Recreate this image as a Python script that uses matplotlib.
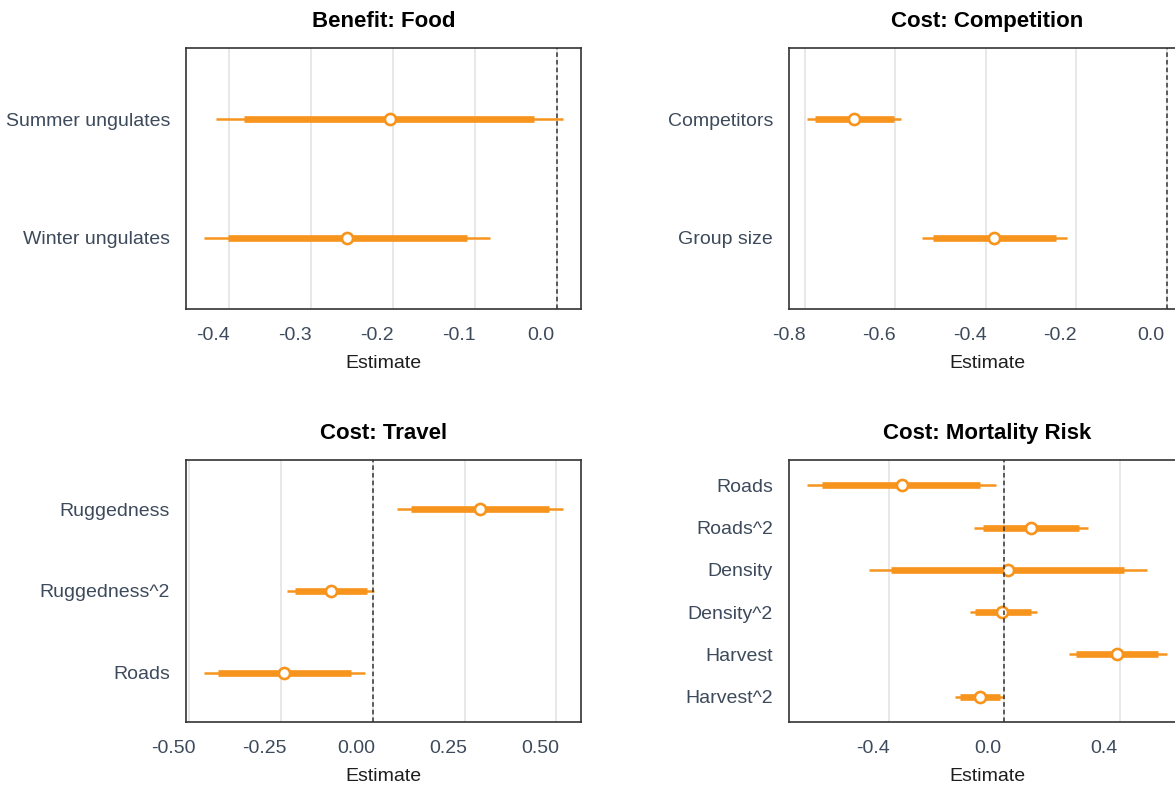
import matplotlib
matplotlib.use("Agg")
import matplotlib.pyplot as plt
from matplotlib.transforms import ScaledTranslation

plt.rcParams['font.family'] = ['Liberation Sans', 'DejaVu Sans']

ORANGE = '#f7941d'
TEXT = '#3d4a5b'

# Benefit: Food
food_terms = ["Summer ungulates", "Winter ungulates"]
food_est = [-0.204, -0.256]
food_lo50 = [-0.382, -0.402]
food_hi50 = [-0.027, -0.109]
food_lo95 = [-0.416, -0.431]
food_hi95 = [0.008, -0.081]
food_ticks = [-0.4, -0.3, -0.2, -0.1, 0.0]
food_ticklabels = ["-0.4", "-0.3", "-0.2", "-0.1", "0.0"]

# Cost: Competition
comp_terms = ["Competitors", "Group size"]
comp_est = [-0.692, -0.382]
comp_lo50 = [-0.778, -0.517]
comp_hi50 = [-0.602, -0.245]
comp_lo95 = [-0.795, -0.541]
comp_hi95 = [-0.587, -0.221]
comp_ticks = [-0.8, -0.6, -0.4, -0.2, 0.0]
comp_ticklabels = ["-0.8", "-0.6", "-0.4", "-0.2", "0.0"]

# Cost: Travel
travel_terms = ["Ruggedness", "Ruggedness^2", "Roads"]
travel_est = [0.291, -0.114, -0.240]
travel_lo50 = [0.103, -0.212, -0.421]
travel_hi50 = [0.481, -0.015, -0.058]
travel_lo95 = [0.066, -0.232, -0.459]
travel_hi95 = [0.518, 0.003, -0.022]
travel_ticks = [-0.5, -0.25, 0.0, 0.25, 0.5]
travel_ticklabels = ["-0.50", "-0.25", "0.00", "0.25", "0.50"]

# Cost: Mortality Risk
mort_terms = ["Roads", "Roads^2", "Density", "Density^2", "Harvest", "Harvest^2"]
mort_est = [-0.354, 0.093, 0.013, -0.006, 0.391, -0.084]
mort_lo50 = [-0.630, -0.072, -0.391, -0.101, 0.249, -0.154]
mort_hi50 = [-0.082, 0.257, 0.414, 0.093, 0.533, -0.016]
mort_lo95 = [-0.682, -0.104, -0.469, -0.120, 0.223, -0.170]
mort_hi95 = [-0.027, 0.291, 0.494, 0.113, 0.563, 0.000]
mort_ticks = [-0.4, 0.0, 0.4]
mort_ticklabels = ["-0.4", "0.0", "0.4"]


def coef_panel(ax, title, terms, est, lo50, hi50, lo95, hi95, ticks, ticklabels):
    y = list(range(1, len(terms) + 1))

    ax.hlines(y, lo95, hi95, color=ORANGE, linewidth=1.8, capstyle='butt', zorder=2)
    ax.hlines(y, lo50, hi50, color=ORANGE, linewidth=4.8, capstyle='butt', zorder=3)
    ax.plot(est, y, 'o', ms=8, mfc='white', mec=ORANGE, mew=1.9, zorder=4)
    ax.axvline(0, color='#333333', linestyle=(0, (3, 2)), linewidth=1.1, zorder=5)

    # ggplot-like 5% expansion around data (and the zero line)
    lo = min(min(lo95), 0)
    hi = max(max(hi95), 0)
    pad = 0.05 * (hi - lo)
    ax.set_xlim(lo - pad, hi + pad)
    ax.set_ylim(len(terms) + 0.6, 0.4)

    ax.set_yticks(y)
    ax.set_yticklabels(terms)
    ax.set_xticks(ticks)
    ax.set_xticklabels(ticklabels)

    ax.tick_params(axis='both', length=0, labelsize=14, labelcolor=TEXT)
    ax.tick_params(axis='y', pad=11.5)
    ax.tick_params(axis='x', pad=13)

    ax.grid(axis='x', color='#e4e4e4', linewidth=1.2)
    ax.set_axisbelow(True)
    for sp in ax.spines.values():
        sp.set_color('#333333')
        sp.set_linewidth(1.2)

    ax.set_title(title, fontsize=16, fontweight='bold', pad=15)
    ax.set_xlabel('Estimate', fontsize=14, color='#1e1e1e', labelpad=8)

    # tick labels sit a little to the left of their grid lines in the original
    shift = ScaledTranslation(-0.16, 0, ax.figure.dpi_scale_trans)
    for lab in ax.get_xticklabels():
        lab.set_transform(lab.get_transform() + shift)


fig = plt.figure(figsize=(11.75, 7.88), dpi=100)

ax1 = fig.add_axes([0.1583, 0.6079, 0.3362, 0.3312])
ax2 = fig.add_axes([0.6715, 0.6079, 0.3370, 0.3312])
ax3 = fig.add_axes([0.1583, 0.0838, 0.3362, 0.3325])
ax4 = fig.add_axes([0.6715, 0.0838, 0.3370, 0.3325])

coef_panel(ax1, "Benefit: Food", food_terms, food_est, food_lo50, food_hi50,
           food_lo95, food_hi95, food_ticks, food_ticklabels)
coef_panel(ax2, "Cost: Competition", comp_terms, comp_est, comp_lo50, comp_hi50,
           comp_lo95, comp_hi95, comp_ticks, comp_ticklabels)
coef_panel(ax3, "Cost: Travel", travel_terms, travel_est, travel_lo50, travel_hi50,
           travel_lo95, travel_hi95, travel_ticks, travel_ticklabels)
coef_panel(ax4, "Cost: Mortality Risk", mort_terms, mort_est, mort_lo50, mort_hi50,
           mort_lo95, mort_hi95, mort_ticks, mort_ticklabels)

fig.savefig('out.png', dpi=100)
